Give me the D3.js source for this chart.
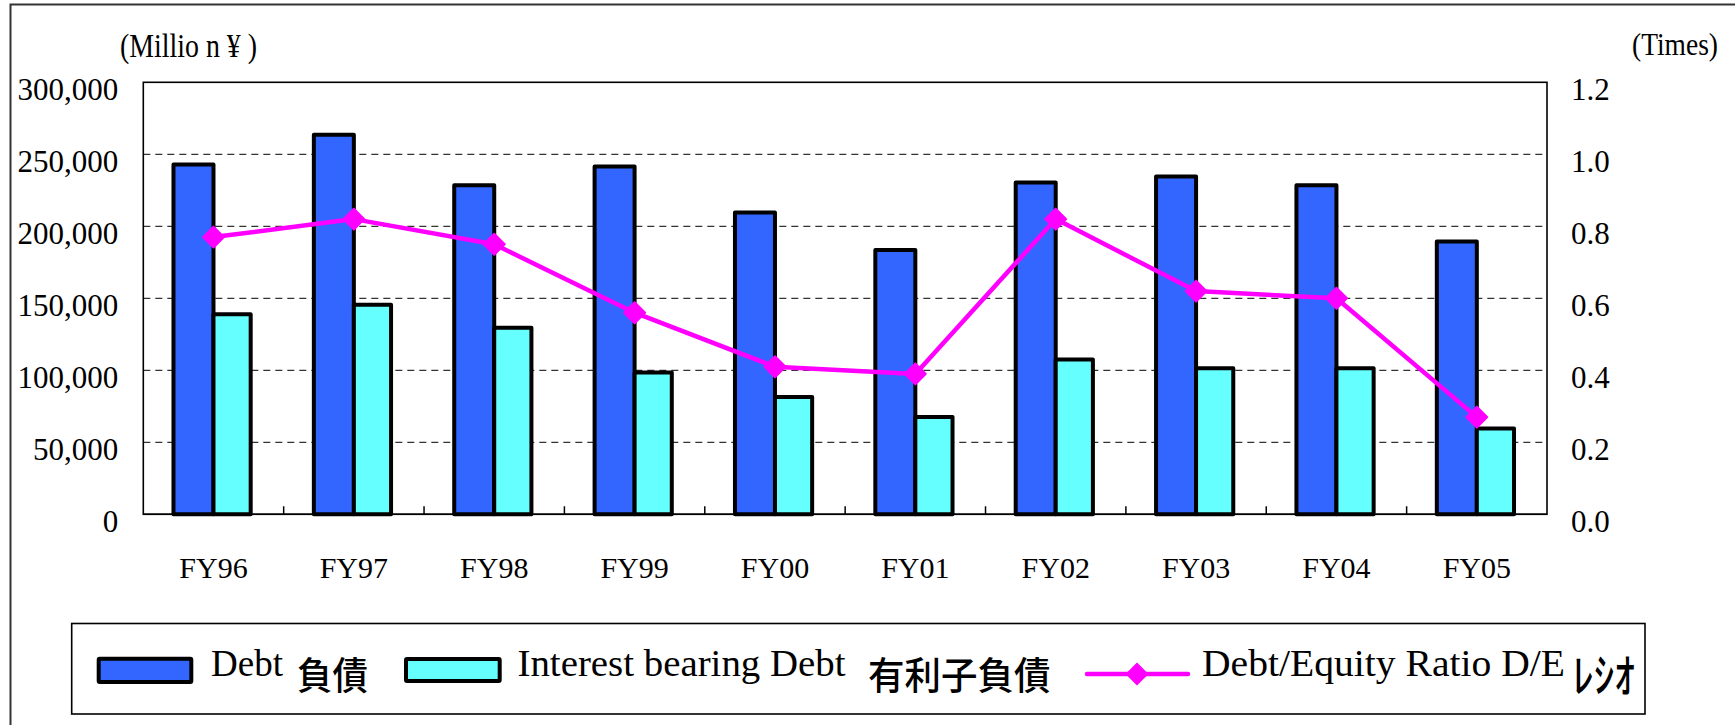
<!DOCTYPE html>
<html><head><meta charset="utf-8">
<script src="https://cdn.jsdelivr.net/npm/d3@7"></script>
<style>body{margin:0;background:#fff}svg{display:block}</style>
</head><body>
<svg id="chart" width="1735" height="725"></svg>
<script>
const categories = ["FY96","FY97","FY98","FY99","FY00","FY01","FY02","FY03","FY04","FY05"];
const debt = [243000, 263500, 228500, 241500, 209500, 183500, 230500, 234500, 228500, 189500];
const interestDebt = [139000, 145500, 129500, 98500, 81500, 67500, 107500, 101500, 101500, 59500];
const deRatio = [0.77, 0.82, 0.75, 0.56, 0.41, 0.39, 0.82, 0.62, 0.60, 0.27];
const leftTicks = [0, 50000, 100000, 150000, 200000, 250000, 300000];
const rightTicks = [0, 0.2, 0.4, 0.6, 0.8, 1.0, 1.2];
const leftUnit = "(Millio n ¥ )";
const rightUnit = "(Times)";
const legendLabels = [
  {latin: "Debt", cjk: "負債"},
  {latin: "Interest bearing Debt", cjk: "有利子負債"},
  {latin: "Debt/Equity Ratio D/E", cjk: "ﾚｼｵ"}
];

const SERIF = "'Liberation Serif','Times New Roman',serif";
const CJK = "'Noto Sans CJK JP','Noto Sans CJK SC',sans-serif";
const colDebt = "#3366FF", colInt = "#66FFFF", colLine = "#FF00FF";

const svg = d3.select("#chart");
svg.append("rect").attr("width",1735).attr("height",725).attr("fill","#fff");
// outer frame
svg.append("rect").attr("x",10.5).attr("y",4.5).attr("width",1900).attr("height",900)
  .attr("fill","none").attr("stroke","#333").attr("stroke-width",2);

const L = 143.3, R = 1547, T = 82.3, B = 514.3;
const x = d3.scaleBand().domain(categories).range([L, R]).padding(0);
const y = d3.scaleLinear().domain([0, 300000]).range([B, T]);
const y2 = d3.scaleLinear().domain([0, 1.2]).range([B, T]);

// gridlines
svg.append("g").selectAll("line").data(leftTicks.filter(d => d > 0 && d < 300000)).join("line")
  .attr("x1", L).attr("x2", R).attr("y1", d => y(d)).attr("y2", d => y(d))
  .attr("stroke", "#333").attr("stroke-width", 1.3).attr("stroke-dasharray", "7,5");

// plot border
svg.append("rect").attr("x", L).attr("y", T).attr("width", R - L).attr("height", B - T)
  .attr("fill", "none").attr("stroke", "#000").attr("stroke-width", 1.6);

// category ticks (inside, upward)
svg.append("g").selectAll("line").data(categories.slice(1)).join("line")
  .attr("x1", d => x(d)).attr("x2", d => x(d)).attr("y1", B).attr("y2", B - 8)
  .attr("stroke", "#000").attr("stroke-width", 1.5);

// bars
const bw = x.bandwidth();
const wDebt = bw * 0.285, wInt = bw * 0.265;
svg.append("g").selectAll("rect").data(categories).join("rect")
  .attr("x", d => x(d) + bw/2 - wDebt).attr("y", (d,i) => y(debt[i]))
  .attr("width", wDebt).attr("height", (d,i) => B - y(debt[i]))
  .attr("fill", colDebt).attr("stroke", "#000").attr("stroke-width", 4).attr("stroke-linejoin","round");
svg.append("g").selectAll("rect").data(categories).join("rect")
  .attr("x", d => x(d) + bw/2).attr("y", (d,i) => y(interestDebt[i]))
  .attr("width", wInt).attr("height", (d,i) => B - y(interestDebt[i]))
  .attr("fill", colInt).attr("stroke", "#000").attr("stroke-width", 4).attr("stroke-linejoin","round");

// redraw bottom axis line over bars
svg.append("line").attr("x1", L).attr("x2", R).attr("y1", B).attr("y2", B)
  .attr("stroke", "#000").attr("stroke-width", 1.6);

// line series
const line = d3.line().x((d,i) => x(categories[i]) + bw/2).y(d => y2(d));
svg.append("path").datum(deRatio).attr("d", line).attr("fill", "none")
  .attr("stroke", colLine).attr("stroke-width", 4.5).attr("stroke-linejoin", "round");
const diamond = "M0,-10.5L10.5,0L0,10.5L-10.5,0Z";
svg.append("g").selectAll("path").data(deRatio).join("path")
  .attr("d", diamond)
  .attr("transform", (d,i) => `translate(${x(categories[i]) + bw/2},${y2(d)})`)
  .attr("fill", colLine).attr("stroke", colLine).attr("stroke-width", 2).attr("stroke-linejoin","round");

// left axis
const gl = svg.append("g").attr("transform", `translate(${L},0)`)
  .call(d3.axisLeft(y).tickValues(leftTicks).tickFormat(d3.format(",")).tickSize(0).tickPadding(25));
gl.select(".domain").remove();
gl.selectAll("text").attr("font-family", SERIF).attr("font-size", 31).attr("fill", "#000")
  .attr("dy", 17);

// right axis
const gr = svg.append("g").attr("transform", `translate(${R},0)`)
  .call(d3.axisRight(y2).tickValues(rightTicks).tickFormat(d3.format(".1f")).tickSize(0).tickPadding(24));
gr.select(".domain").remove();
gr.selectAll("text").attr("font-family", SERIF).attr("font-size", 31).attr("fill", "#000")
  .attr("dy", 17);

// x axis labels
const gx = svg.append("g").attr("transform", `translate(0,${B})`)
  .call(d3.axisBottom(x).tickSize(0).tickPadding(0));
gx.select(".domain").remove();
gx.selectAll("text").attr("font-family", SERIF).attr("font-size", 30).attr("fill", "#000")
  .attr("y", 64).attr("dy", 0);

// unit labels
svg.append("text").attr("x", 120).attr("y", 57).attr("font-family", SERIF).attr("font-size", 34)
  .attr("textLength", 137).attr("lengthAdjust", "spacingAndGlyphs").text(leftUnit);
svg.append("text").attr("x", 1632).attr("y", 55).attr("font-family", SERIF).attr("font-size", 31)
  .attr("textLength", 86).attr("lengthAdjust", "spacingAndGlyphs").text(rightUnit);

// legend
const lg = svg.append("g");
lg.append("rect").attr("x", 71.7).attr("y", 623.5).attr("width", 1645 - 71.7).attr("height", 714 - 623.5)
  .attr("fill", "#fff").attr("stroke", "#000").attr("stroke-width", 1.6);
// swatches
lg.append("rect").attr("x", 98.7).attr("y", 658.7).attr("width", 92.6).attr("height", 23.3)
  .attr("fill", colDebt).attr("stroke", "#000").attr("stroke-width", 4).attr("rx", 1);
lg.append("rect").attr("x", 406).attr("y", 659).attr("width", 93.7).attr("height", 22)
  .attr("fill", colInt).attr("stroke", "#000").attr("stroke-width", 4).attr("rx", 1);
lg.append("line").attr("x1", 1087).attr("x2", 1188).attr("y1", 674).attr("y2", 674)
  .attr("stroke", colLine).attr("stroke-width", 4.5).attr("stroke-linecap", "round");
lg.append("path").attr("d", diamond).attr("transform", "translate(1137,674)")
  .attr("fill", colLine).attr("stroke", colLine).attr("stroke-width", 1.5).attr("stroke-linejoin","round");

const latinPos = [{x: 211, w: 72}, {x: 517.5, w: 328}, {x: 1202, w: 363}];
const cjkPos = [{x: 297, w: 71, fs: 38, y: 689}, {x: 868, w: 182.5, fs: 38, y: 689}, {x: 1573, w: 62, fs: 46, y: 692}];
legendLabels.forEach((d, i) => {
  lg.append("text").attr("x", latinPos[i].x).attr("y", 676).attr("font-family", SERIF).attr("font-size", 38)
    .attr("textLength", latinPos[i].w).attr("lengthAdjust", "spacingAndGlyphs").text(d.latin);
  lg.append("text").attr("x", cjkPos[i].x).attr("y", cjkPos[i].y).attr("font-family", CJK).attr("font-size", cjkPos[i].fs)
    .attr("font-weight", 500)
    .attr("textLength", cjkPos[i].w).attr("lengthAdjust", "spacingAndGlyphs").text(d.cjk);
});
</script>
</body></html>
